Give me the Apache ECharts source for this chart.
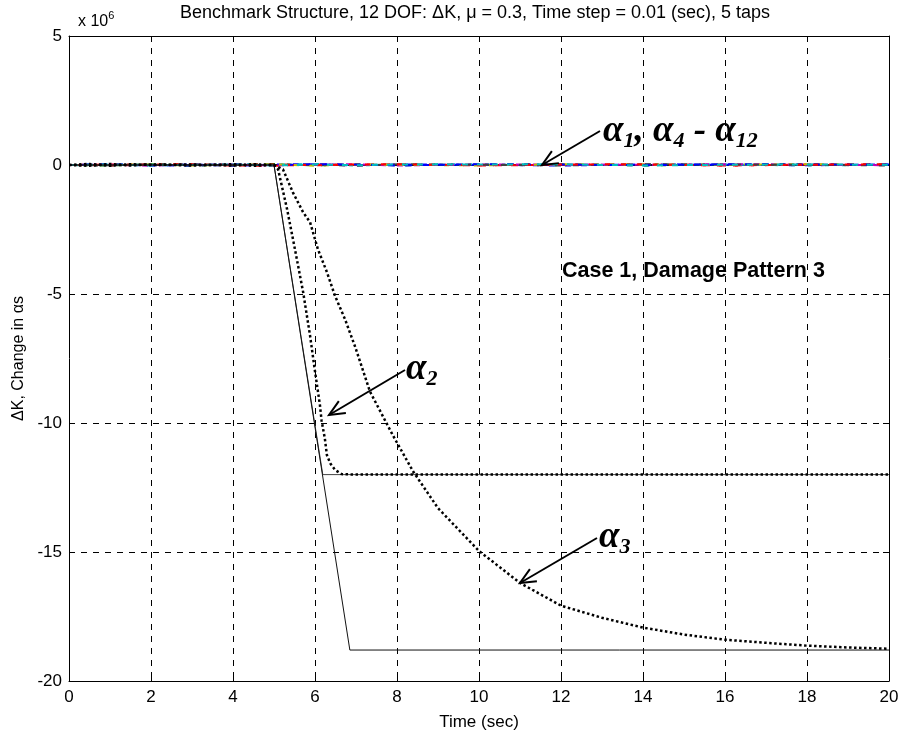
<!DOCTYPE html>
<html>
<head>
<meta charset="utf-8">
<script src="https://cdn.jsdelivr.net/npm/echarts@6/dist/echarts.min.js"></script>
<style>
html,body{margin:0;padding:0;background:#fff;}
#chart{width:903px;height:736px;}
</style>
</head>
<body>
<div id="chart"></div>
<script>
// ---- data (values in units of 10^6) ----
const xTicks = [0, 2, 4, 6, 8, 10, 12, 14, 16, 18, 20];
const yTicks = [5, 0, -5, -10, -15, -20];

// true (prescribed) stiffness changes
const trueA2T = [0, 5, 6.19, 20];
const trueA2V = [0, 0, -12, -12];
const trueA3T = [0, 5, 6.85, 20];
const trueA3V = [0, 0, -18.8, -18.8];
const trueZeroT = [0, 20];
const trueZeroV = [0, 0];

// identified alpha2 (dotted)
const estA2T = [0, 0.5, 1, 1.5, 2, 3, 4, 4.5, 5, 5.1, 5.32, 5.51, 5.71, 5.88, 6.0, 6.12, 6.16, 6.24, 6.29, 6.37, 6.49, 6.65, 7, 8, 10, 14, 20];
const estA2V = [0, 0.04, -0.03, 0.03, 0, 0.02, -0.02, 0.03, 0, -0.17, -1.72, -3.26, -4.92, -6.62, -8.0, -9.3, -9.9, -10.6, -11.24, -11.56, -11.82, -11.98, -12.0, -12.0, -12.0, -12.0, -12.0];

// identified alpha3 (dotted)
const estA3T = [0, 0.5, 1, 1.5, 2, 3, 4, 4.5, 5, 5.22, 5.46, 5.71, 5.88, 6.07, 6.29, 6.49, 6.73, 6.98, 7.34, 7.9, 8.39, 9, 10, 11, 12, 13, 14, 15, 16, 17, 18, 19, 20];
const estA3V = [0, -0.03, 0.04, -0.02, 0.02, -0.02, 0.03, -0.03, 0, -0.17, -1.06, -1.83, -2.22, -3.26, -4.15, -5.08, -5.97, -7.05, -8.78, -10.48, -11.87, -13.3, -14.96, -16.2, -17.08, -17.55, -17.93, -18.2, -18.4, -18.52, -18.63, -18.7, -18.75];

// identified alpha1, alpha4 - alpha12 (near zero)
const nearT = [0, 1, 2, 3, 4, 5, 6, 7, 8, 10, 12, 14, 16, 18, 20];
const estA1V  = [0, 0.03, -0.02, 0.02, -0.03, 0.02, 0.03, -0.02, 0.02, 0.01, -0.02, 0.02, 0.01, -0.01, 0.02];
const estA4V  = [0, -0.02, 0.03, -0.03, 0.02, 0.04, -0.02, 0.03, -0.01, 0.02, 0.03, -0.02, 0.02, 0.03, 0.01];
const estA5V  = [0, 0.02, 0.01, 0.03, -0.02, -0.03, 0.02, 0.01, 0.03, -0.02, 0.01, 0.02, -0.02, 0.02, 0.03];
const estA6V  = [0, -0.03, 0.02, 0.01, 0.03, 0.02, 0.04, -0.02, 0.02, 0.03, -0.01, 0.03, 0.02, -0.02, 0.01];
const estA7V  = [0, 0.01, -0.03, 0.02, 0.02, -0.02, 0.01, 0.03, -0.02, 0.02, 0.02, 0.01, 0.03, 0.02, -0.01];
const estA8V  = [0, 0.02, 0.02, -0.02, 0.01, 0.03, -0.03, 0.02, 0.01, -0.02, 0.03, 0.02, 0.01, 0.03, 0.02];
const estA9V  = [0, -0.01, 0.03, 0.02, -0.02, 0.01, 0.02, -0.03, 0.03, 0.01, -0.02, 0.03, 0.02, 0.01, -0.02];
const estA10V = [0, 0.03, -0.01, -0.02, 0.03, -0.01, 0.03, 0.02, -0.02, 0.03, 0.02, -0.01, 0.03, 0.02, 0.02];
const estA11V = [0, -0.02, 0.02, 0.03, 0.01, 0.02, -0.01, 0.02, 0.03, -0.01, 0.02, 0.03, -0.02, 0.01, 0.03];
const estA12V = [0, 0.02, -0.02, 0.01, 0.02, -0.02, 0.02, -0.01, 0.02, 0.02, 0.03, -0.02, 0.01, 0.02, 0.01];

const nearSeries = [
  {name: 'α1', v: estA1V},
  {name: 'α4', v: estA4V},
  {name: 'α5', v: estA5V},
  {name: 'α6', v: estA6V},
  {name: 'α7', v: estA7V},
  {name: 'α8', v: estA8V},
  {name: 'α9', v: estA9V},
  {name: 'α10', v: estA10V},
  {name: 'α11', v: estA11V},
  {name: 'α12', v: estA12V}
];
const nearColors = ['#0000ff', '#008000', '#ff0000', '#00bfbf', '#bf00bf', '#bfbf00', '#404040', '#0000ff', '#ff0000', '#00bfbf'];
const nearDash = [[6, 10], [5, 12], [7, 9], [4, 13], [6, 11], [5, 10], [6, 12], [7, 10], [5, 11], [6, 9]];

function zip(t, v) { return t.map((x, i) => [x, v[i]]); }

const FONT = 'Liberation Sans, Arial, sans-serif';
const SERIF = 'Liberation Serif, Times New Roman, serif';

const chart = echarts.init(document.getElementById('chart'), null, {renderer: 'canvas'});

const grid = {left: 69, right: 14, top: 36, bottom: 52, containLabel: false};

const series = [];
series.push({
  name: 'true zero', type: 'line', data: zip(trueZeroT, trueZeroV), symbol: 'none',
  lineStyle: {color: '#0a1a1a', width: 2}, z: 2, silent: true
});
nearSeries.forEach((s, i) => {
  series.push({
    name: s.name, type: 'line', data: zip(nearT, s.v), symbol: 'none',
    lineStyle: {color: nearColors[i], width: 2, type: nearDash[i], dashOffset: i * 3},
    z: 3, silent: true
  });
});
series.push({
  name: 'true α2', type: 'line', data: zip(trueA2T, trueA2V), symbol: 'none',
  lineStyle: {color: '#444', width: 1}, z: 4, silent: true
});
series.push({
  name: 'true α3', type: 'line', data: zip(trueA3T, trueA3V), symbol: 'none',
  lineStyle: {color: '#111', width: 1}, z: 4, silent: true
});
series.push({
  name: 'est α2', type: 'line', data: zip(estA2T, estA2V), symbol: 'none', smooth: false,
  lineStyle: {color: '#000', width: 2.5, type: [2.5, 2.5]}, z: 5, silent: true
});
series.push({
  name: 'est α3', type: 'line', data: zip(estA3T, estA3V), symbol: 'none', smooth: false,
  lineStyle: {color: '#000', width: 2.5, type: [2.5, 2.5]}, z: 5, silent: true
});

const tickFont = {color: '#000', fontSize: 17, fontFamily: FONT};

const option = {
  animation: false,
  backgroundColor: '#fff',
  grid: grid,
  xAxis: [
    {
      type: 'value', min: xTicks[0], max: xTicks[xTicks.length - 1], interval: 2,
      position: 'bottom',
      name: 'Time (sec)', nameLocation: 'middle', nameGap: 33,
      nameTextStyle: {color: '#000', fontSize: 17, fontFamily: FONT},
      axisLine: {show: true, onZero: false, lineStyle: {color: '#000', width: 1}},
      axisTick: {show: true, inside: true, length: 6, lineStyle: {color: '#000'}},
      axisLabel: {show: true, margin: 8, ...tickFont},
      splitLine: {show: true, lineStyle: {color: '#000', width: 1, type: [6, 6]}}
    },
    {
      type: 'value', min: xTicks[0], max: xTicks[xTicks.length - 1], interval: 2,
      position: 'top',
      axisLine: {show: true, onZero: false, lineStyle: {color: '#000', width: 1}},
      axisTick: {show: true, inside: true, length: 6, lineStyle: {color: '#000'}},
      axisLabel: {show: false},
      splitLine: {show: false}
    }
  ],
  yAxis: [
    {
      type: 'value', min: yTicks[yTicks.length - 1], max: yTicks[0], interval: 5,
      position: 'left',
      name: 'ΔK, Change in αs', nameLocation: 'middle', nameGap: 37, nameRotate: 90,
      nameTextStyle: {color: '#000', fontSize: 16, fontFamily: FONT},
      axisLine: {show: true, onZero: false, lineStyle: {color: '#000', width: 1}},
      axisTick: {show: true, inside: true, length: 6, lineStyle: {color: '#000'}},
      axisLabel: {show: true, margin: 7, ...tickFont},
      splitLine: {show: true, lineStyle: {color: '#000', width: 1, type: [6, 6]}}
    },
    {
      type: 'value', min: yTicks[yTicks.length - 1], max: yTicks[0], interval: 5,
      position: 'right',
      axisLine: {show: true, onZero: false, lineStyle: {color: '#000', width: 1}},
      axisTick: {show: true, inside: true, length: 6, lineStyle: {color: '#000'}},
      axisLabel: {show: false},
      splitLine: {show: false}
    }
  ],
  series: series,
  graphic: []
};

chart.setOption(option);

// ---- annotations ----
function arrow(x1, y1, x2, y2) {
  const ang = Math.atan2(y2 - y1, x2 - x1);
  const L = 17, spread = 0.42;
  const p1 = [x2 - L * Math.cos(ang - spread), y2 - L * Math.sin(ang - spread)];
  const p2 = [x2 - L * Math.cos(ang + spread), y2 - L * Math.sin(ang + spread)];
  return [
    {type: 'line', shape: {x1: x1, y1: y1, x2: x2, y2: y2}, style: {stroke: '#000', lineWidth: 2}, z: 100, silent: true},
    {type: 'polyline', shape: {points: [p1, [x2, y2], p2]}, style: {stroke: '#000', lineWidth: 2, fill: null}, z: 100, silent: true}
  ];
}

const bigA = {fontSize: 37, fontStyle: 'italic', fontWeight: 'bold', fontFamily: SERIF, color: '#000', lineHeight: 42, verticalAlign: 'middle'};
const subA = {fontSize: 22, fontStyle: 'italic', fontWeight: 'bold', fontFamily: SERIF, color: '#000', lineHeight: 25, verticalAlign: 'bottom'};

const graphics = [];
graphics.push({
  type: 'text', x: 475, y: 13, silent: true,
  style: {text: 'Benchmark Structure, 12 DOF: ΔK, μ = 0.3, Time step = 0.01 (sec), 5 taps',
          fill: '#000', font: '18px ' + FONT, textAlign: 'center', textVerticalAlign: 'middle'}
});
graphics.push({
  type: 'text', x: 78, y: 10, silent: true,
  style: {
    text: '{m|x 10}{s|6}', fill: '#000',
    rich: {m: {fontSize: 16, fontFamily: FONT, lineHeight: 20, verticalAlign: 'bottom'},
           s: {fontSize: 11, fontFamily: FONT, lineHeight: 20, verticalAlign: 'top'}}
  }
});
graphics.push({
  type: 'text', x: 562, y: 260, silent: true,
  style: {text: 'Case 1, Damage Pattern 3', fill: '#000', font: 'bold 21.5px ' + FONT}
});
graphics.push({
  type: 'text', x: 603, y: 110, silent: true,
  style: {text: '{a|α}{s|1}{a|, α}{s|4}{a| - α}{s|12}', rich: {a: bigA, s: subA}}
});
graphics.push({
  type: 'text', x: 406, y: 348, silent: true,
  style: {text: '{a|α}{s|2}', rich: {a: bigA, s: subA}}
});
graphics.push({
  type: 'text', x: 599, y: 516, silent: true,
  style: {text: '{a|α}{s|3}', rich: {a: bigA, s: subA}}
});
arrow(600, 131, 542, 165).forEach(g => graphics.push(g));
arrow(405, 370, 329, 415).forEach(g => graphics.push(g));
arrow(597, 538, 520, 583).forEach(g => graphics.push(g));

chart.setOption({graphic: graphics});
</script>
</body>
</html>
